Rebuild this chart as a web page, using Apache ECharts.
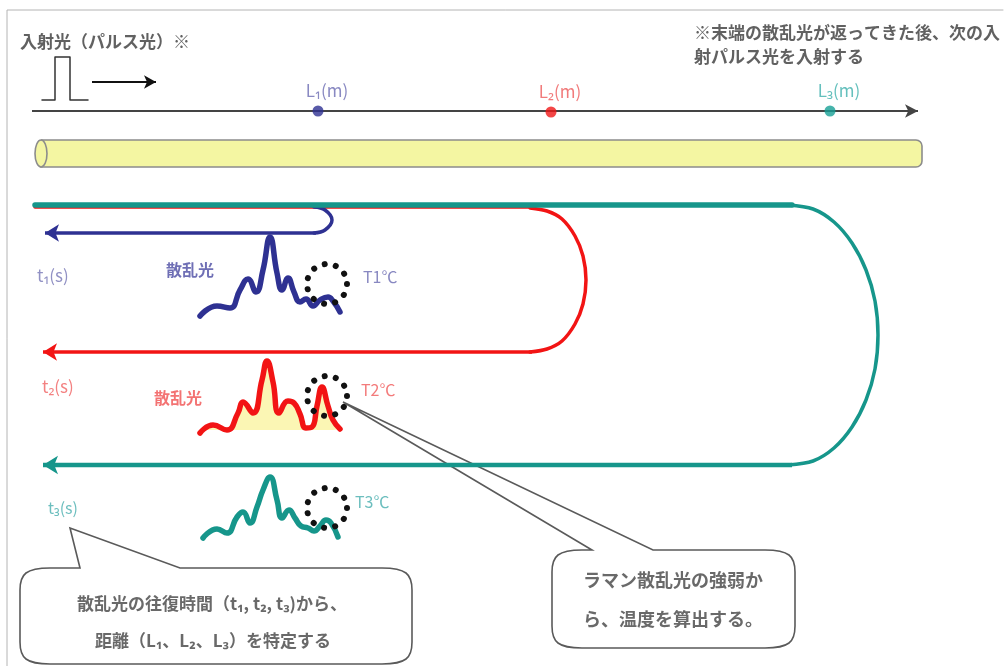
<!DOCTYPE html>
<html>
<head>
<meta charset="utf-8">
<script src="https://cdn.jsdelivr.net/npm/echarts@6/dist/echarts.min.js"></script>
<style>
html,body{margin:0;padding:0;background:#fff;}
#chart{width:1006px;height:666px;}
</style>
</head>
<body>
<div id="chart"></div>
<script>
// ---------- data (diagram positions in the 1006 x 666 plane) ----------
const framePath = [[7,666],[7,10],[1003,10]];
const pulseShape = [[42,100],[55,100],[55,57],[70,57],[70,100],[88,100]];
const pulseArrow = [[92,82],[156,82]];
const distanceAxis = [[32,111],[918,111]];
const distanceNames = ['L₁(m)','L₂(m)','L₃(m)'];
const distanceX = [318,551,830];
const distanceY = [111,112,111];
const fiberTube = [35,922,140,167];

const tealOut = [[35,205],[792,205]];
const tealLoop = [[788,205],[813,209],[834,222],[852,243],[866,270],[875,301],[878,335],[875,369],[866,400],[852,427],[834,448],[813,461],[788,465]];
const tealBack = [[792,465],[43,465]];
const redOut = [[35,207],[532,207]];
const redLoop = [[530,208],[547,211],[562,219],[575,236],[583,256],[586,280],[583,304],[575,324],[562,341],[547,349],[530,352]];
const redBack = [[532,352],[43,352]];
const blueLoop = [[314,207],[325,210],[332,220],[325,230],[314,233]];
const blueBack = [[316,233],[45,233]];

const blueWave = [[200,316],[217,306],[230,308],[240,290],[248,279],[256,292],[263,270],[270,237],[277,273],[282,290],[288,278],[294,292],[300,302],[306,299],[313,306],[320,300],[328,297],[333,301],[340,312]];
const redWave = [[200,433],[213,425],[227,430],[238,413],[243,402],[253,413],[262,380],[267,361],[273,382],[279,413],[288,401],[294,403],[300,414],[306,428],[312,427],[317,406],[322,387],[328,406],[333,420],[340,429]];
const tealWave = [[203,538],[217,529],[227,533],[237,517],[243,512],[250,523],[257,507],[263,490],[270,477],[277,500],[282,518],[289,510],[295,518],[301,526],[308,528],[314,531],[320,526],[326,520],[331,523],[338,537]];
const probeCircles = [[327,284],[327,396],[327,508]];

const callout1 = [20,568,412,664,80,180,70,528];
const callout2 = [552,550,795,648,592,653,343,402];

const titleText = [[20,42,'入射光（パルス光）※']];
const noteText = [[694,33,'※末端の散乱光が返ってきた後、次の入'],[694,57,'射パルス光を入射する']];
const blueTexts = [[37,276,'t₁(s)'],[166,270,'散乱光'],[363,277,'T1℃']];
const redTexts = [[42,387,'t₂(s)'],[154,398,'散乱光'],[361,390,'T2℃']];
const tealTexts = [[48,508,'t₃(s)'],[355,502,'T3℃']];
const callout1Text = [[212,604,'散乱光の往復時間（t₁, t₂, t₃)から、'],[213,641,'距離（L₁、L₂、L₃）を特定する']];
const callout2Text = [[673,580,'ラマン散乱光の強弱か'],[673,619,'ら、温度を算出する。']];

// ---------- colours ----------
const NAVY = '#2e3192', RED = '#f21414', TEAL = '#16968b';
const FONT = "'Noto Sans CJK JP','Noto Sans',sans-serif";

function line(pts, color, width, z, smooth) {
  return {type:'line', data:pts, symbol:'none', showSymbol:false, smooth:smooth||false,
    lineStyle:{color:color, width:width, cap:'round', join:'round'}, z:z||2, silent:true};
}
function arrowLine(pts, color, width, head, rot, z) {
  return {type:'line', silent:true, z:z||2, showSymbol:true,
    data: pts.map((p,i)=> i===pts.length-1 ? {value:p, symbol:'arrow', symbolSize:head, symbolRotate:rot, symbolKeepAspect:false}
                                          : {value:p, symbol:'none'}),
    lineStyle:{color:color, width:width}, itemStyle:{color:color}};
}
function texts(items, color, size, align, weight) {
  return {type:'scatter', symbolSize:0, silent:true, z:20,
    data: items.map(t=>({value:[t[0],t[1]], name:t[2]})),
    label:{show:true, position: align==='left' ? 'right' : 'inside', distance:0, formatter:'{b}',
      color:color, fontSize:size, fontFamily:FONT, fontWeight:weight||'normal'}};
}
function bubbleItem(params, api) {
  const a = api.coord([api.value(0), api.value(1)]);
  const b = api.coord([api.value(2), api.value(3)]);
  const bl = api.coord([api.value(4), api.value(1)])[0];
  const br = api.coord([api.value(5), api.value(1)])[0];
  const tip = api.coord([api.value(6), api.value(7)]);
  const x1=a[0], y1=a[1], x2=b[0], y2=b[1], rx=30, ry=22;
  const d = ['M',x1+rx,y1,'L',bl,y1,'L',tip[0],tip[1],'L',br,y1,'L',x2-rx,y1,
    'C',x2-6,y1,x2,y1+6,x2,y1+ry,'L',x2,y2-ry,'C',x2,y2-6,x2-6,y2,x2-rx,y2,
    'L',x1+rx,y2,'C',x1+6,y2,x1,y2-6,x1,y2-ry,'L',x1,y1+ry,'C',x1,y1+6,x1+6,y1,x1+rx,y1,'Z'].join(' ');
  return {type:'path', shape:{pathData:d}, style:{fill:'#fff', stroke:'#5a5a5a', lineWidth:1.6}};
}

const series = [
  line(framePath, '#b4b4b4', 1, 1),
  // pulse
  line(pulseShape, '#333', 1.5, 3),
  arrowLine(pulseArrow, '#111', 2, [10,12], -90, 3),
  // distance axis
  arrowLine(distanceAxis, '#444', 2, [10,13], -90, 3),
  {type:'scatter', silent:true, z:5, symbolSize:11,
    data: distanceNames.map((n,i)=>({value:[distanceX[i], distanceY[i]], name:n,
      itemStyle:{color:[NAVY,'#f01818','#18a096'][i]},
      label:{color:['#6b6bb3','#ee5a5a','#3fb0ad'][i]}})),
    label:{show:true, position:'top', formatter:'{b}', offset:[9,-1], fontSize:17, fontFamily:FONT}},
  // fibre tube
  {type:'custom', silent:true, z:2, data:[fiberTube],
    renderItem:function(params, api){
      const p0 = api.coord([api.value(0), api.value(2)]);
      const p1 = api.coord([api.value(1), api.value(3)]);
      const cy = (p0[1]+p1[1])/2, ry = (p1[1]-p0[1])/2;
      return {type:'group', children:[
        {type:'rect', shape:{x:p0[0]+6, y:p0[1], width:p1[0]-p0[0]-6, height:p1[1]-p0[1], r:[0,6,6,0]},
          style:{fill:'#f4f6a2', stroke:'#8c8c8c', lineWidth:1.6}},
        {type:'ellipse', shape:{cx:p0[0]+6, cy:cy, rx:6, ry:ry},
          style:{fill:'#f4f6a2', stroke:'#8c8c8c', lineWidth:1.6}}
      ]};
    }},
  // callouts (under the light paths)
  {type:'custom', silent:true, z:1, data:[callout1, callout2], renderItem:bubbleItem},
  // light paths
  line(redOut, RED, 3.5, 3),
  line(redLoop, RED, 3.5, 3, 0.3),
  arrowLine(redBack, RED, 3.5, [13,14], 90, 3),
  line(blueLoop, NAVY, 3.5, 4, 0.4),
  arrowLine(blueBack, NAVY, 3.5, [13,14], 90, 4),
  line(tealOut, TEAL, 5.5, 5),
  line(tealLoop, TEAL, 3.5, 5, 0.3),
  arrowLine(tealBack, TEAL, 4.5, [14,15], 90, 5),
  // scattered light waves
  line(blueWave, NAVY, 5.5, 6, 0.5),
  Object.assign(line(redWave, RED, 5.5, 6, 0.5), {areaStyle:{color:'#fbf6b4', opacity:1, origin:430}}),
  line(tealWave, TEAL, 5.5, 6, 0.5),
  // dotted measurement circles
  {type:'custom', silent:true, z:7, data:probeCircles,
    renderItem:function(params, api){
      const c = api.coord([api.value(0), api.value(1)]);
      return {type:'circle', shape:{cx:c[0], cy:c[1], r:20},
        style:{fill:null, stroke:'#111', lineWidth:6, lineDash:[0.1,11.3], lineCap:'round'}};
    }},
  // texts
  texts(titleText, '#3a3a3a', 17, 'left', 'bold'),
  texts(noteText, '#3a3a3a', 17, 'left', 'bold'),
  texts(blueTexts.slice(0,1), '#7575b5', 17, 'left'),
  texts(blueTexts.slice(1,2), '#4b4ba3', 16, 'left', 'bold'),
  texts(blueTexts.slice(2), '#6a6ab2', 16, 'left'),
  texts(redTexts.slice(0,1), '#f06262', 17, 'left'),
  texts(redTexts.slice(1,2), '#f05050', 16, 'left', 'bold'),
  texts(redTexts.slice(2), '#f05a5a', 16, 'left'),
  texts(tealTexts, '#47aeae', 16, 'left'),
  texts(callout1Text, '#444', 17, null, 'bold'),
  texts(callout2Text, '#444', 18, null, 'bold')
];

const chart = echarts.init(document.getElementById('chart'), null, {renderer:'canvas'});
chart.setOption({
  animation:false,
  backgroundColor:'#fff',
  grid:{left:0, right:0, top:0, bottom:0},
  xAxis:{type:'value', min:0, max:1006, show:false},
  yAxis:{type:'value', min:0, max:666, inverse:true, show:false},
  series: series
});
</script>
</body>
</html>
